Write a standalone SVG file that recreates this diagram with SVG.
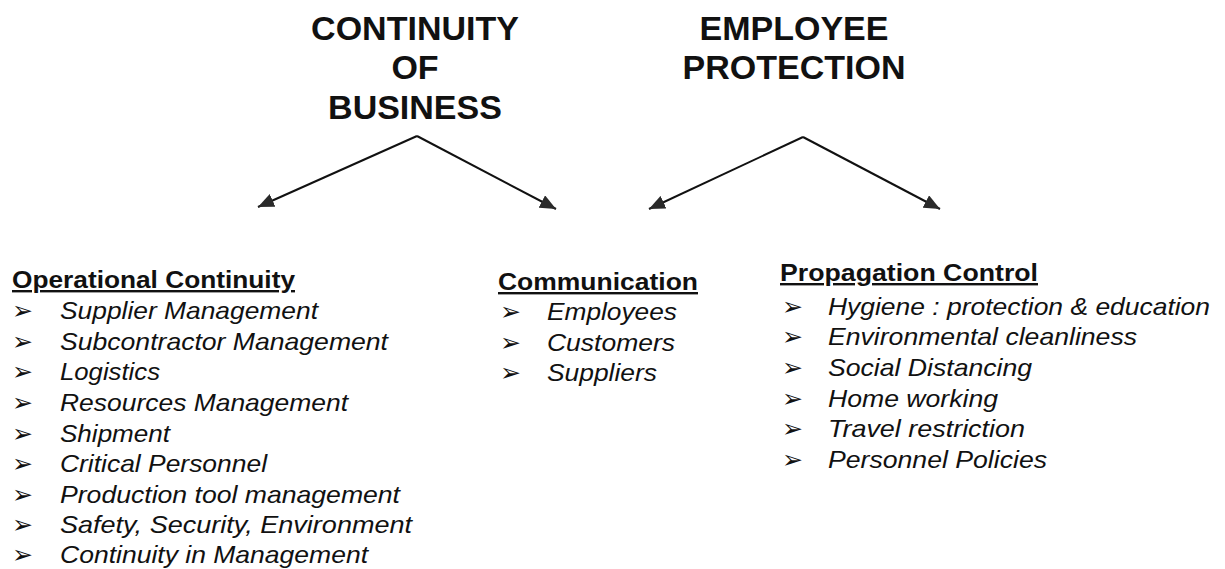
<svg xmlns="http://www.w3.org/2000/svg" width="1225" height="569" viewBox="0 0 1225 569">
<style>
.t{font-family:"Liberation Sans",Arial,sans-serif;font-weight:bold;font-size:34px;fill:#111;text-anchor:middle}
.h{font-family:"Liberation Sans",Arial,sans-serif;font-weight:bold;font-size:24px;fill:#111;text-decoration:underline}
.i{font-family:"Liberation Sans",Arial,sans-serif;font-style:italic;font-size:24px;fill:#111}
.b{font-family:"DejaVu Sans",sans-serif;font-size:25px;fill:#111}
.c{stroke:#111;stroke-width:2;fill:none;marker-end:url(#ah)}
</style>
<defs>
<marker id="ah" markerUnits="userSpaceOnUse" viewBox="0 0 16 14" refX="16" refY="7" markerWidth="16" markerHeight="14" orient="auto">
<path d="M0,0 L16,7 L0,14 z" fill="#2a2a2a"/>
</marker>
</defs>
<g id="title-continuity">
<text class="t" x="415" y="40">CONTINUITY</text>
<text class="t" x="415" y="79">OF</text>
<text class="t" x="415" y="119">BUSINESS</text>
</g>
<g id="title-employee">
<text class="t" x="794" y="40">EMPLOYEE</text>
<text class="t" x="794" y="79">PROTECTION</text>
</g>
<g id="connectors">
<path class="c" d="M417,136 L258,207"/>
<path class="c" d="M417,136 L556,209"/>
<path class="c" d="M803,137 L649,209"/>
<path class="c" d="M803,137 L940,209"/>
</g>
<g id="operational-continuity">
<text class="h" x="12" y="288" textLength="283" lengthAdjust="spacingAndGlyphs">Operational Continuity</text>
<text class="b" x="12" y="319">➢</text><text class="i" x="60" y="319" textLength="258" lengthAdjust="spacingAndGlyphs">Supplier Management</text>
<text class="b" x="12" y="350">➢</text><text class="i" x="60" y="350" textLength="328" lengthAdjust="spacingAndGlyphs">Subcontractor Management</text>
<text class="b" x="12" y="380">➢</text><text class="i" x="60" y="380" textLength="100" lengthAdjust="spacingAndGlyphs">Logistics</text>
<text class="b" x="12" y="411">➢</text><text class="i" x="60" y="411" textLength="288" lengthAdjust="spacingAndGlyphs">Resources Management</text>
<text class="b" x="12" y="442">➢</text><text class="i" x="60" y="442" textLength="110" lengthAdjust="spacingAndGlyphs">Shipment</text>
<text class="b" x="12" y="472">➢</text><text class="i" x="60" y="472" textLength="207" lengthAdjust="spacingAndGlyphs">Critical Personnel</text>
<text class="b" x="12" y="503">➢</text><text class="i" x="60" y="503" textLength="340" lengthAdjust="spacingAndGlyphs">Production tool management</text>
<text class="b" x="12" y="533">➢</text><text class="i" x="60" y="533" textLength="352" lengthAdjust="spacingAndGlyphs">Safety, Security, Environment</text>
<text class="b" x="12" y="563">➢</text><text class="i" x="60" y="563" textLength="308" lengthAdjust="spacingAndGlyphs">Continuity in Management</text>
</g>
<g id="communication">
<text class="h" x="498" y="290" textLength="200" lengthAdjust="spacingAndGlyphs">Communication</text>
<text class="b" x="500" y="320">➢</text><text class="i" x="547" y="320" textLength="130" lengthAdjust="spacingAndGlyphs">Employees</text>
<text class="b" x="500" y="351">➢</text><text class="i" x="547" y="351" textLength="128" lengthAdjust="spacingAndGlyphs">Customers</text>
<text class="b" x="500" y="381">➢</text><text class="i" x="547" y="381" textLength="110" lengthAdjust="spacingAndGlyphs">Suppliers</text>
</g>
<g id="propagation-control">
<text class="h" x="780" y="281" textLength="258" lengthAdjust="spacingAndGlyphs">Propagation Control</text>
<text class="b" x="782" y="315">➢</text><text class="i" x="828" y="315" textLength="382" lengthAdjust="spacingAndGlyphs">Hygiene : protection &amp; education</text>
<text class="b" x="782" y="345">➢</text><text class="i" x="828" y="345" textLength="309" lengthAdjust="spacingAndGlyphs">Environmental cleanliness</text>
<text class="b" x="782" y="376">➢</text><text class="i" x="828" y="376" textLength="204" lengthAdjust="spacingAndGlyphs">Social Distancing</text>
<text class="b" x="782" y="407">➢</text><text class="i" x="828" y="407" textLength="170" lengthAdjust="spacingAndGlyphs">Home working</text>
<text class="b" x="782" y="437">➢</text><text class="i" x="828" y="437" textLength="197" lengthAdjust="spacingAndGlyphs">Travel restriction</text>
<text class="b" x="782" y="468">➢</text><text class="i" x="828" y="468" textLength="219" lengthAdjust="spacingAndGlyphs">Personnel Policies</text>
</g>
</svg>
